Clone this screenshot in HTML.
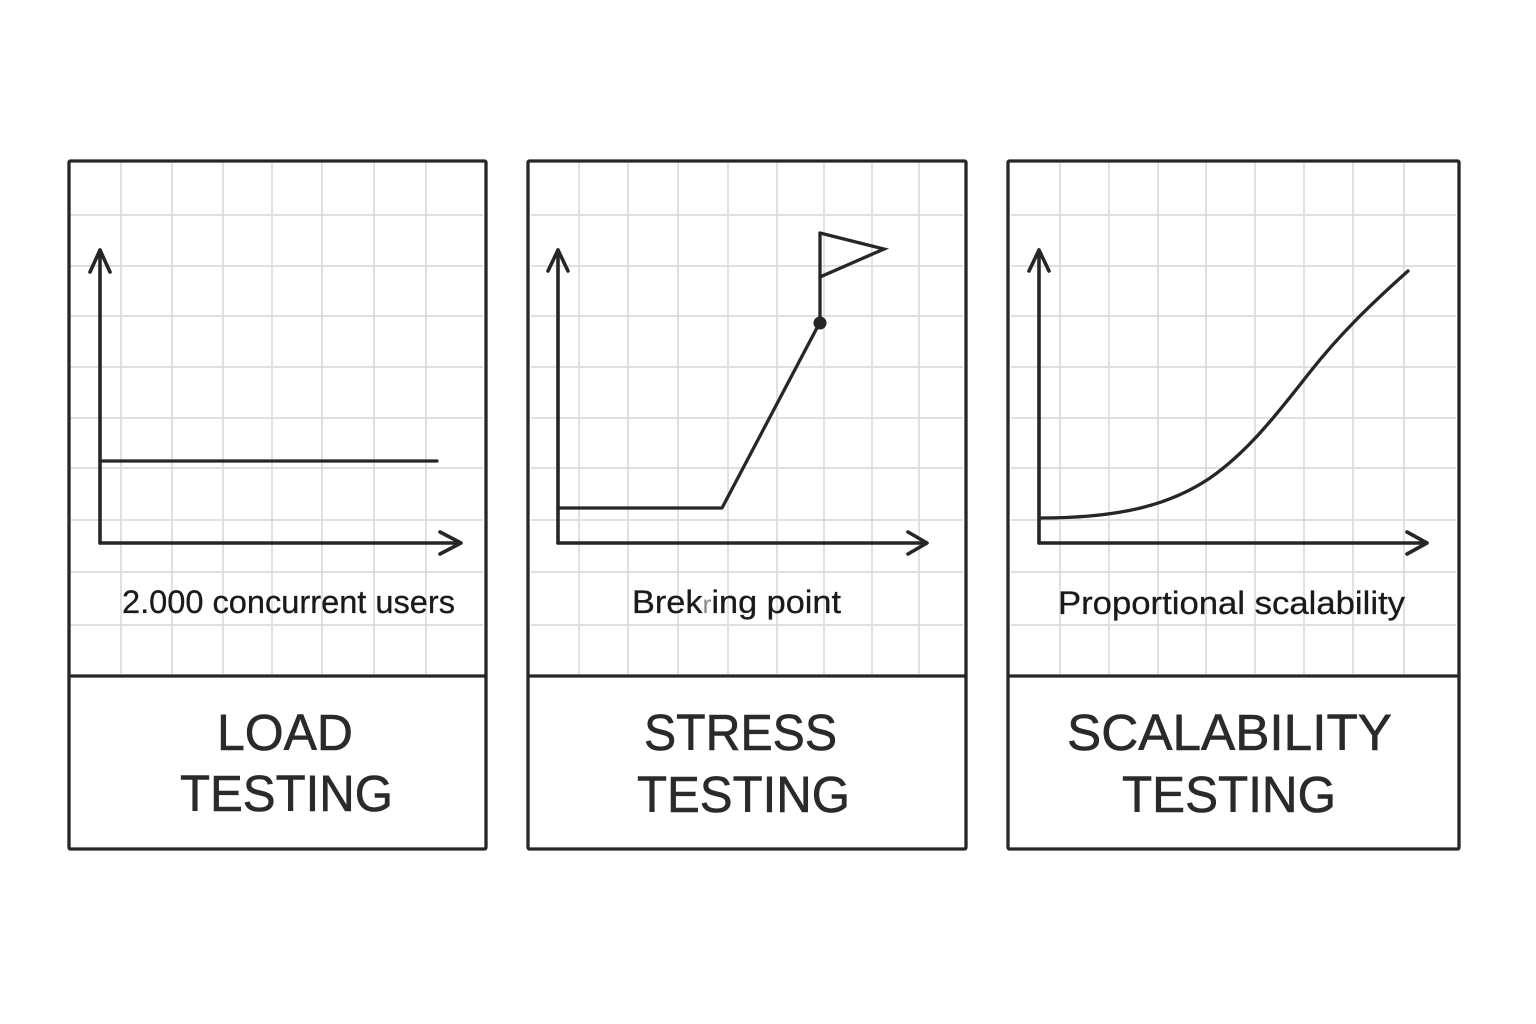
<!DOCTYPE html>
<html>
<head>
<meta charset="utf-8">
<style>
  html, body { margin: 0; padding: 0; background: #ffffff; }
  body { width: 1536px; height: 1024px; overflow: hidden; }
  svg { display: block; }
  text { font-family: "Liberation Sans", "DejaVu Sans", sans-serif; }
</style>
</head>
<body>
<svg width="1536" height="1024" viewBox="0 0 1536 1024" xmlns="http://www.w3.org/2000/svg">
  <rect x="0" y="0" width="1536" height="1024" fill="#ffffff"/>

  <!-- ============ GRIDS ============ -->
  <g stroke="#dcdcdc" stroke-width="1.7" fill="none">
    <path d="M121,163V674 M172,163V674 M223,163V674 M272,163V674 M322,163V674 M374,163V674 M426,163V674"/>
    <path d="M71,215H483 M71,266H483 M71,316H483 M71,367H483 M71,418H483 M71,468H483 M71,520H483 M71,572H483 M71,625H483"/>
    <path d="M579,163V674 M628,163V674 M678,163V674 M728,163V674 M777,163V674 M824,163V674 M872,163V674 M919,163V674"/>
    <path d="M531,215H963 M531,266H963 M531,316H963 M531,367H963 M531,418H963 M531,468H963 M531,520H963 M531,572H963 M531,625H963"/>
    <path d="M1060,163V674 M1109,163V674 M1158,163V674 M1206,163V674 M1255,163V674 M1304,163V674 M1353,163V674 M1404,163V674"/>
    <path d="M1011,215H1456 M1011,266H1456 M1011,316H1456 M1011,367H1456 M1011,418H1456 M1011,468H1456 M1011,520H1456 M1011,572H1456 M1011,625H1456"/>
  </g>

  <!-- ============ PANEL FRAMES ============ -->
  <g stroke="#262626" stroke-width="3.3" fill="none" stroke-linejoin="round">
    <rect x="69" y="161" width="417" height="688" rx="1.5"/>
    <line x1="69" y1="676" x2="486" y2="676"/>
    <rect x="528" y="161" width="438" height="688" rx="1.5"/>
    <line x1="528" y1="676" x2="966" y2="676"/>
    <rect x="1008" y="161" width="451" height="688" rx="1.5"/>
    <line x1="1008" y1="676" x2="1459" y2="676"/>
  </g>

  <!-- ============ AXES ============ -->
  <g stroke="#262626" stroke-width="3.6" fill="none" stroke-linecap="round" stroke-linejoin="round">
    <path d="M100,543 V250"/>
    <path d="M90,272 L100,250 L110,272"/>
    <path d="M100,543 H460"/>
    <path d="M440,532 L461,543 L440,554"/>
    <path d="M558,543 V250"/>
    <path d="M548,271 L558,250 L568,271"/>
    <path d="M558,543 H926"/>
    <path d="M908,532 L927,543 L908,554"/>
    <path d="M1039,543 V250"/>
    <path d="M1029,271 L1039,250 L1049,271"/>
    <path d="M1039,543 H1426"/>
    <path d="M1407,532 L1427,543 L1407,554"/>
  </g>

  <!-- ============ SERIES ============ -->
  <g stroke="#262626" stroke-width="3.3" fill="none" stroke-linecap="round" stroke-linejoin="round">
    <path d="M100,461 H437"/>
    <path d="M558,508 H722 L819,324"/>
    <path d="M820,324 V233"/>
    <path d="M820,233 L884,249 L820,277" stroke-linejoin="miter"/>
    <path d="M1040,518 C1120,518 1170,505 1210,478 C1250,450 1280,410 1310,372 S1370,305 1408,271"/>
  </g>
  <circle cx="820" cy="323" r="6.5" fill="#262626"/>

  <!-- ============ SUBTITLES ============ -->
  <g fill="#1a1a1a" font-size="32" stroke="#1a1a1a" stroke-width="0.3">
    <text x="122" y="613" textLength="333" lengthAdjust="spacingAndGlyphs">2.000 concurrent users</text>
    <text x="632" y="613" textLength="209" lengthAdjust="spacingAndGlyphs">Brek<tspan fill="#8a8a8a" stroke="none" font-size="25">r</tspan>ing point</text>
    <text x="1058" y="614" textLength="347" lengthAdjust="spacingAndGlyphs">Proportional scalability</text>
  </g>

  <!-- ============ TITLES ============ -->
  <g fill="#2a2a2a" font-size="51" stroke="#2a2a2a" stroke-width="0.6">
    <text x="217" y="750" textLength="136" lengthAdjust="spacingAndGlyphs">LOAD</text>
    <text x="180" y="811" textLength="213" lengthAdjust="spacingAndGlyphs">TESTING</text>
    <text x="644" y="750" textLength="193" lengthAdjust="spacingAndGlyphs">STRESS</text>
    <text x="637" y="812" textLength="213" lengthAdjust="spacingAndGlyphs">TESTING</text>
    <text x="1067" y="750" textLength="325" lengthAdjust="spacingAndGlyphs">SCALABILITY</text>
    <text x="1122" y="812" textLength="214" lengthAdjust="spacingAndGlyphs">TESTING</text>
  </g>
</svg>
</body>
</html>
